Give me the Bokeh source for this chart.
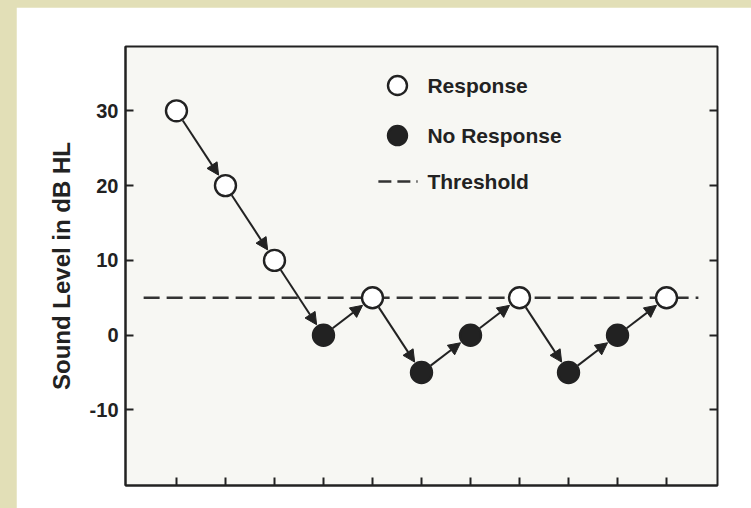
import math
from bokeh.plotting import figure
from bokeh.models import (ColumnDataSource, Arrow, NormalHead, FixedTicker,
                          Range1d, LinearAxis, CustomJSTickFormatter)
from bokeh.layouts import column
from bokeh.core.properties import value
from bokeh.embed import file_html
from bokeh.resources import INLINE

# ---- data ----
trial = [1, 2, 3, 4, 5, 6, 7, 8, 9, 10, 11]
level_db = [30, 20, 10, 0, 5, -5, 0, 5, -5, 0, 5]
response = [True, True, True, False, True, False, False, True, False, False, True]
threshold_db = 5
y_ticks = [30, 20, 10, 0, -10]
y_tick_labels = ["30", "20", "10", "0", "-10"]
x_ticks = [1, 2, 3, 4, 5, 6, 7, 8, 9, 10, 11]
legend_labels = ["Response", "No Response", "Threshold"]
y_label = "Sound Level in dB HL"

# ---- style ----
INK = "#222222"
FONT = value("Liberation Sans")
X0, X1 = -0.04, 12.04
Y0, Y1 = -20.1, 38.6
FW, FH = 592, 439  # frame size in px

p = figure(width=735, height=501, x_range=Range1d(X0, X1), y_range=Range1d(Y0, Y1),
           output_backend="svg", toolbar_location=None,
           min_border_left=109, min_border_right=34, min_border_top=39,
           min_border_bottom=23)
p.margin = (7, 0, 0, 16)
p.background_fill_color = "#f7f7f3"
p.border_fill_color = "#ffffff"
p.outline_line_color = INK
p.outline_line_width = 2
p.xgrid.visible = False
p.ygrid.visible = False

p.yaxis.ticker = FixedTicker(ticks=y_ticks)
p.xaxis.ticker = FixedTicker(ticks=x_ticks)
for ax in (p.xaxis[0], p.yaxis[0]):
    ax.axis_line_color = INK
    ax.axis_line_width = 2
    ax.major_tick_line_color = INK
    ax.major_tick_line_width = 2
    ax.major_tick_in = 8
    ax.major_tick_out = 0
    ax.minor_tick_line_color = None
blank = CustomJSTickFormatter(code="return ''")
p.xaxis.formatter = blank
p.xaxis.major_label_standoff = 0
p.yaxis.major_label_overrides = {t: s for t, s in zip(y_ticks, y_tick_labels)}
p.yaxis.major_label_text_font = "Liberation Sans"
p.yaxis.major_label_text_font_style = "bold"
p.yaxis.major_label_text_font_size = "20px"
p.yaxis.major_label_text_color = INK
p.yaxis.major_label_standoff = 7
p.yaxis.axis_label = y_label
p.yaxis.axis_label_text_font = "Liberation Sans"
p.yaxis.axis_label_text_font_style = "bold"
p.yaxis.axis_label_text_font_size = "24px"
p.yaxis.axis_label_text_color = INK
p.yaxis.axis_label_standoff = 12

right_ax = LinearAxis(ticker=FixedTicker(ticks=y_ticks), axis_line_color=None,
                      major_tick_line_color=INK, major_tick_line_width=2,
                      major_tick_in=8, major_tick_out=0, major_label_standoff=0,
                      minor_tick_line_color=None,
                      formatter=CustomJSTickFormatter(code="return ''"))
p.add_layout(right_ax, "right")

# threshold dashed line
p.line([0.33, 11.65], [threshold_db, threshold_db], line_color="#333333",
       line_width=2.5, line_dash="16 7")

# arrows between successive trials, trimmed to marker edges
sx = FW / (X1 - X0)
sy = FH / (Y1 - Y0)
r = 11.5
xs, ys, xe, ye = [], [], [], []
for i in range(len(trial) - 1):
    dx = (trial[i + 1] - trial[i]) * sx
    dy = (level_db[i + 1] - level_db[i]) * sy
    d = math.hypot(dx, dy)
    ux, uy = dx / d, dy / d
    xs.append(trial[i] + ux * r / sx)
    ys.append(level_db[i] + uy * r / sy)
    xe.append(trial[i + 1] - ux * (r + 1) / sx)
    ye.append(level_db[i + 1] - uy * (r + 1) / sy)
arr_src = ColumnDataSource(dict(xs=xs, ys=ys, xe=xe, ye=ye))
p.add_layout(Arrow(source=arr_src, x_start="xs", y_start="ys", x_end="xe", y_end="ye",
                   line_color=INK, line_width=2,
                   end=NormalHead(size=12, fill_color=INK, line_color=INK, line_width=1)))

fills = ["#ffffff" if r_ else INK for r_ in response]
src = ColumnDataSource(dict(x=trial, y=level_db, fill=fills))
p.scatter("x", "y", source=src, size=21, fill_color="fill", line_color=INK, line_width=2.4)

# legend (manual)
lx_mark, lx_text = 5.51, 6.12
ly = [33.38, 26.69, 20.54]
p.scatter([lx_mark], [ly[0]], size=19, fill_color="#ffffff", line_color=INK, line_width=2.4)
p.scatter([lx_mark], [ly[1]], size=19, fill_color=INK, line_color=INK, line_width=2.4)
p.line([5.12, 5.92], [ly[2], ly[2]], line_color="#333333", line_width=2.5, line_dash="13 6")
p.text([lx_text] * 3, ly, text=legend_labels, text_font=FONT, text_font_style="bold",
       text_font_size="21px", text_color=INK, text_baseline="middle", text_align="left")

layout = column(p, width=751, height=508, styles={"background-color": "#e2dfb7"})
open("out.html", "w").write(file_html(layout, INLINE))
